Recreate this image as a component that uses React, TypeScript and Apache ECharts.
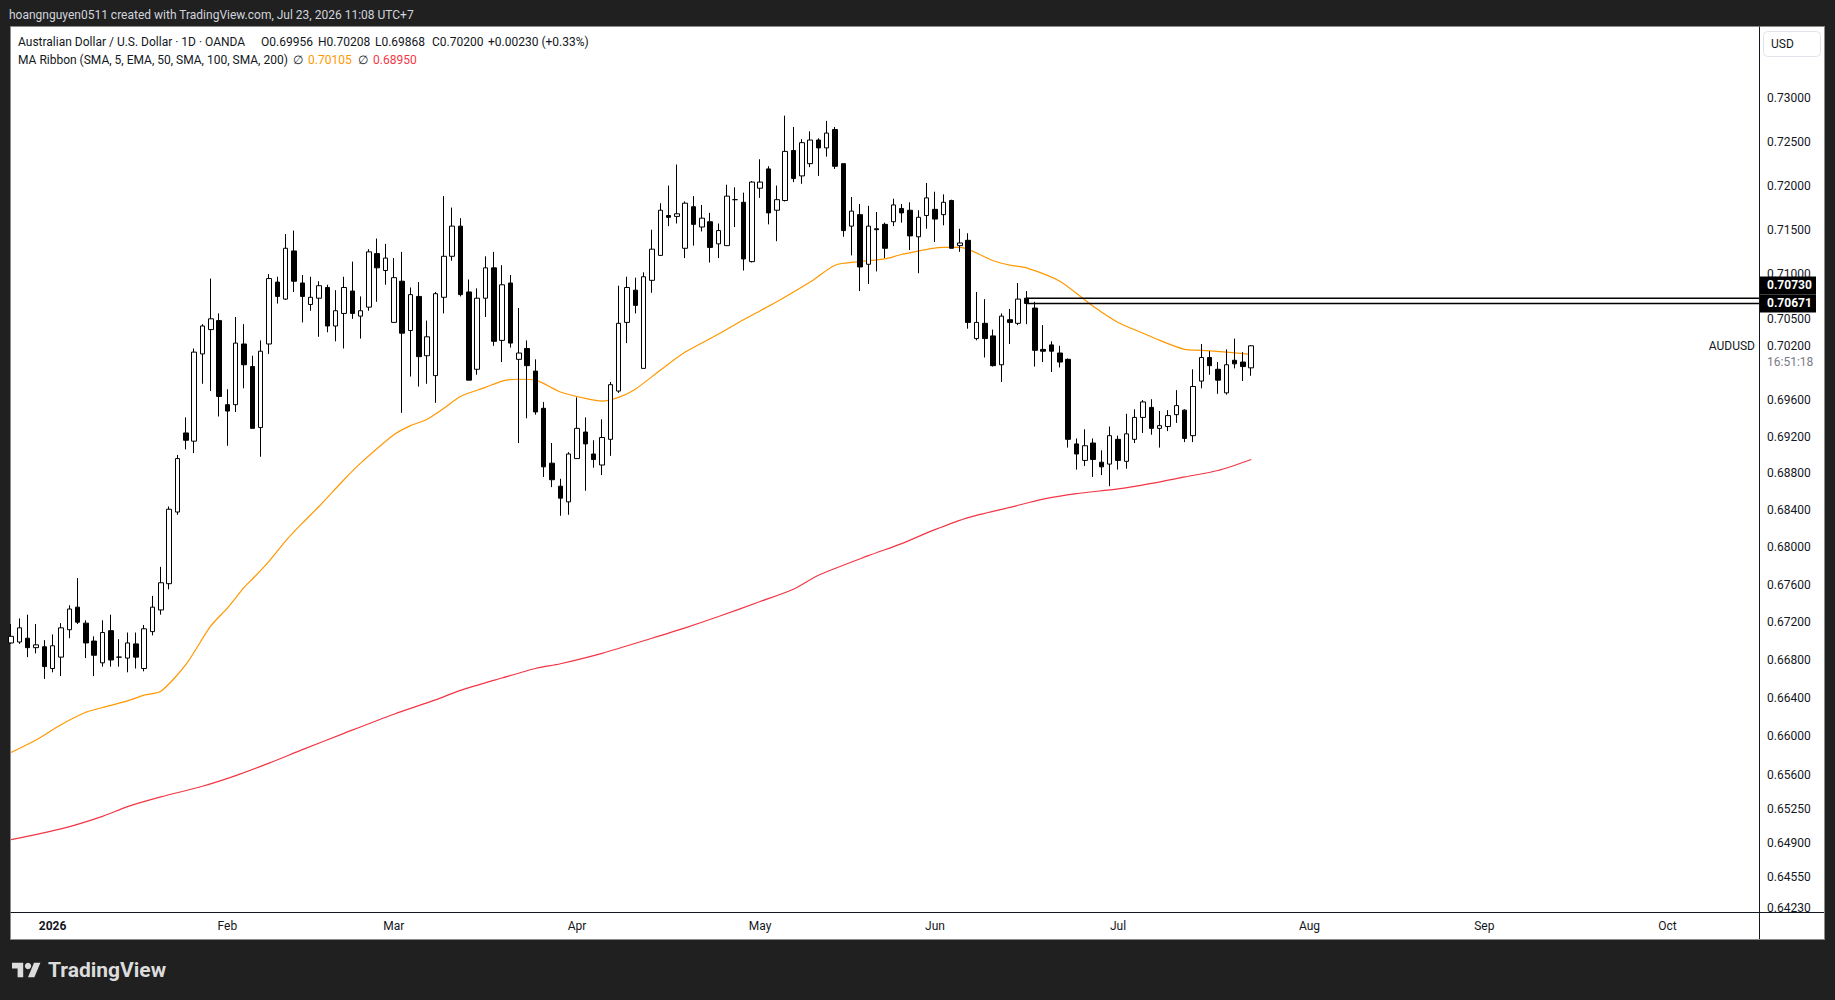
import React, { useEffect, useRef } from "react";
import * as echarts from "echarts";

// ---------- data (AUD/USD daily, OANDA) ----------
const firstDate = "2025-12-26";
const totalBars = 211; // trading days shown on the time scale (incl. empty future space)

const opens = [
  0.6698, 0.6699, 0.6703, 0.6693, 0.6694, 0.6671, 0.6683, 0.6712, 0.6736, 0.6719,
  0.6700, 0.6677, 0.6711, 0.6683, 0.6682, 0.6697, 0.6671, 0.6710, 0.6733, 0.6761,
  0.6838, 0.6924, 0.6915, 0.7011, 0.7038, 0.7048, 0.6955, 0.6955, 0.7022, 0.6997,
  0.6930, 0.7022, 0.7091, 0.7072, 0.7126, 0.7090, 0.7066, 0.7073, 0.7085, 0.7042,
  0.7056, 0.7081, 0.7053, 0.7063, 0.7123, 0.7104, 0.7046, 0.7092, 0.7037, 0.7075,
  0.7009, 0.6987, 0.7074, 0.7120, 0.7154, 0.7080, 0.6994, 0.7073, 0.7107, 0.7026,
  0.7090, 0.7005, 0.7017, 0.6992, 0.6951, 0.6891, 0.6866, 0.6849, 0.6896, 0.6925,
  0.6901, 0.6889, 0.6917, 0.6970, 0.7046, 0.7082, 0.6995, 0.7093, 0.7121, 0.7166,
  0.7165, 0.7129, 0.7176, 0.7153, 0.7159, 0.7134, 0.7132, 0.7184, 0.7181, 0.7114,
  0.7197, 0.7219, 0.7172, 0.7183, 0.7240, 0.7211, 0.7225, 0.7252, 0.7243, 0.7264,
  0.7225, 0.7154, 0.7167, 0.7111, 0.7151, 0.7156, 0.7159, 0.7174, 0.7172, 0.7142,
  0.7166, 0.7173, 0.7167, 0.7183, 0.7132, 0.7138, 0.7028, 0.7045, 0.7031, 0.6999,
  0.7049, 0.7045, 0.7073, 0.7062, 0.7016, 0.7021, 0.7012, 0.7005, 0.6912, 0.6894,
  0.6913, 0.6892, 0.6890, 0.6917, 0.6893, 0.6917, 0.6941, 0.6952, 0.6929, 0.6931,
  0.6944, 0.6949, 0.6921, 0.6981, 0.7007, 0.6994, 0.6968, 0.7004, 0.7002, 0.69956,
];
const highs = [
  0.6718, 0.6724, 0.6728, 0.6718, 0.6701, 0.6707, 0.6719, 0.6738, 0.6767, 0.6722,
  0.6705, 0.6722, 0.6728, 0.6702, 0.6709, 0.6709, 0.6717, 0.6748, 0.6779, 0.6844,
  0.6900, 0.6941, 0.7017, 0.7044, 0.7095, 0.7056, 0.6972, 0.7052, 0.7044, 0.7009,
  0.7026, 0.7100, 0.7097, 0.7145, 0.7149, 0.7099, 0.7097, 0.7092, 0.7088, 0.7082,
  0.7097, 0.7114, 0.7075, 0.7128, 0.7140, 0.7134, 0.7118, 0.7125, 0.7085, 0.7091,
  0.7048, 0.7080, 0.7188, 0.7175, 0.7163, 0.7094, 0.7084, 0.7120, 0.7125, 0.7110,
  0.7099, 0.7062, 0.7026, 0.7005, 0.6958, 0.6913, 0.6874, 0.6903, 0.6963, 0.6941,
  0.6916, 0.6939, 0.6980, 0.7087, 0.7097, 0.7096, 0.7102, 0.7150, 0.7180, 0.7200,
  0.7224, 0.7182, 0.7188, 0.7178, 0.7169, 0.7157, 0.7201, 0.7198, 0.7192, 0.7205,
  0.7230, 0.7222, 0.7200, 0.7280, 0.7267, 0.7253, 0.7262, 0.7254, 0.7274, 0.7267,
  0.7225, 0.7187, 0.7179, 0.7177, 0.7170, 0.7158, 0.7185, 0.7179, 0.7181, 0.7172,
  0.7203, 0.7193, 0.7190, 0.7184, 0.7151, 0.7146, 0.7080, 0.7072, 0.7038, 0.7056,
  0.7061, 0.7090, 0.7081, 0.7069, 0.7043, 0.7025, 0.7020, 0.7006, 0.6918, 0.6928,
  0.6918, 0.6905, 0.6931, 0.6921, 0.6945, 0.6950, 0.6960, 0.6961, 0.6948, 0.6949,
  0.6971, 0.6950, 0.6994, 0.7022, 0.7014, 0.7002, 0.7016, 0.7028, 0.7013, 0.70208,
];
const lows = [
  0.6697, 0.6697, 0.6683, 0.6687, 0.6660, 0.6667, 0.6663, 0.6703, 0.6718, 0.6682,
  0.6663, 0.6673, 0.6673, 0.6673, 0.6667, 0.6671, 0.6668, 0.6706, 0.6728, 0.6755,
  0.6835, 0.6906, 0.6902, 0.6978, 0.6970, 0.6942, 0.6910, 0.6947, 0.6973, 0.6929,
  0.6898, 0.7011, 0.7067, 0.7071, 0.7080, 0.7046, 0.7059, 0.7030, 0.7035, 0.7025,
  0.7017, 0.7050, 0.7028, 0.7059, 0.7069, 0.7088, 0.7046, 0.6946, 0.6986, 0.6975,
  0.6978, 0.6957, 0.7056, 0.7115, 0.7075, 0.6982, 0.6988, 0.7052, 0.7020, 0.7002,
  0.7018, 0.6913, 0.6940, 0.6944, 0.6876, 0.6865, 0.6834, 0.6835, 0.6896, 0.6861,
  0.6886, 0.6878, 0.6899, 0.6968, 0.7023, 0.7056, 0.6995, 0.7079, 0.7121, 0.7154,
  0.7157, 0.7118, 0.7132, 0.7148, 0.7113, 0.7118, 0.7132, 0.7153, 0.7104, 0.7113,
  0.7186, 0.7156, 0.7137, 0.7182, 0.7204, 0.7202, 0.7221, 0.7211, 0.7233, 0.7219,
  0.7142, 0.7121, 0.7081, 0.7089, 0.7103, 0.7118, 0.7154, 0.7158, 0.7127, 0.7101,
  0.7151, 0.7136, 0.7155, 0.7129, 0.7125, 0.7039, 0.7026, 0.7007, 0.6997, 0.6980,
  0.7022, 0.7043, 0.7044, 0.6997, 0.7002, 0.6991, 0.6996, 0.6908, 0.6884, 0.6888,
  0.6876, 0.6878, 0.6866, 0.6884, 0.6885, 0.6913, 0.6924, 0.6922, 0.6908, 0.6926,
  0.6935, 0.6914, 0.6914, 0.6973, 0.6988, 0.6967, 0.6966, 0.6995, 0.6981, 0.69868,
];
const closes = [
  0.6705, 0.6714, 0.6693, 0.6696, 0.6673, 0.6695, 0.6714, 0.6734, 0.6720, 0.6698,
  0.6685, 0.6709, 0.6680, 0.6683, 0.6698, 0.6683, 0.6713, 0.6736, 0.6762, 0.6841,
  0.6896, 0.6916, 0.7013, 0.7042, 0.7050, 0.6964, 0.6948, 0.7023, 0.6999, 0.6929,
  0.7014, 0.7095, 0.7075, 0.7129, 0.7092, 0.7075, 0.7074, 0.7087, 0.7042, 0.7059,
  0.7085, 0.7056, 0.7059, 0.7125, 0.7107, 0.7118, 0.7096, 0.7034, 0.7077, 0.7008,
  0.7030, 0.7078, 0.7120, 0.7154, 0.7077, 0.6982, 0.7073, 0.7107, 0.7025, 0.7088,
  0.7023, 0.7012, 0.6998, 0.6947, 0.6887, 0.6873, 0.6853, 0.6901, 0.6929, 0.6912,
  0.6895, 0.6919, 0.6977, 0.7045, 0.7085, 0.7065, 0.7097, 0.7128, 0.7172, 0.7164,
  0.7168, 0.7180, 0.7156, 0.7163, 0.7130, 0.7149, 0.7188, 0.7184, 0.7117, 0.7204,
  0.7204, 0.7169, 0.7184, 0.7239, 0.7208, 0.7249, 0.7252, 0.7243, 0.7260, 0.7222,
  0.7149, 0.7171, 0.7108, 0.7154, 0.7150, 0.7129, 0.7178, 0.7169, 0.7143, 0.7164,
  0.7186, 0.7162, 0.7181, 0.7129, 0.7135, 0.7046, 0.7046, 0.7028, 0.6998, 0.7053,
  0.7046, 0.7072, 0.70671, 0.7015, 0.7014, 0.7014, 0.7002, 0.6917, 0.6901, 0.6910,
  0.6895, 0.6887, 0.6921, 0.6894, 0.6923, 0.6941, 0.6958, 0.6929, 0.6932, 0.6943,
  0.6954, 0.6918, 0.6975, 0.7007, 0.6998, 0.6982, 0.6999, 0.7000, 0.6997, 0.70200,
];

// MA Ribbon: EMA 50 (orange) and SMA 200 (red), read at these bar numbers
const emaBars = [0, 3, 6, 9, 11, 14, 16, 18, 21, 24, 26, 28, 29, 31, 33, 35, 37, 40, 42, 46, 48, 50, 52, 54, 57, 59, 61, 63, 66, 69, 71, 73, 75, 78, 81, 85, 88, 92, 96, 99, 102, 105, 107, 112, 114, 118, 120, 122, 126, 130, 133, 136, 138, 141, 143, 146, 149];
const emaValues = [
  0.6583, 0.6596, 0.6612, 0.6625, 0.6630, 0.6637, 0.6643, 0.6647, 0.6675, 0.6716,
  0.6735, 0.6757, 0.6766, 0.6785, 0.6807, 0.6826, 0.6844, 0.6873, 0.6891, 0.6922,
  0.6932, 0.6939, 0.6951, 0.6964, 0.6974, 0.6981, 0.6983, 0.6982, 0.6969, 0.6962,
  0.6959, 0.6963, 0.6972, 0.6993, 0.7013, 0.7033, 0.7049, 0.7069, 0.7091, 0.7110,
  0.7114, 0.7117, 0.7122, 0.7130, 0.7130, 0.7115, 0.7110, 0.7107, 0.7092, 0.7064,
  0.7046, 0.7034, 0.7026, 0.7016, 0.7015, 0.7013, 0.70105,
];
const smaBars = [0, 6, 11, 14, 18, 23, 27, 31, 35, 40, 46, 51, 54, 59, 63, 66, 71, 77, 81, 85, 90, 94, 97, 103, 107, 111, 115, 120, 124, 128, 133, 137, 141, 145, 149];
const smaValues = [
  0.6493, 0.6504, 0.6517, 0.6527, 0.6537, 0.6548, 0.6559, 0.6572, 0.6586, 0.6603,
  0.6623, 0.6638, 0.6648, 0.6661, 0.6671, 0.6676, 0.6687, 0.6703, 0.6714, 0.6726,
  0.6742, 0.6755, 0.6770, 0.6791, 0.6804, 0.6819, 0.6832, 0.6843, 0.6852, 0.6858,
  0.6863, 0.6869, 0.6876, 0.6883, 0.6895,
];

// horizontal levels drawn from the 2026-06-17 candle
const levelValues = [0.7073, 0.70671];
const levelStartBar = 122;

// price-scale ticks and visible range
const priceTicks = [0.73, 0.725, 0.72, 0.715, 0.71, 0.705, 0.702, 0.696, 0.692, 0.688, 0.684, 0.68, 0.676, 0.672, 0.668, 0.664, 0.66, 0.656, 0.6525, 0.649, 0.6455, 0.6423];
const priceMin = 0.64192;
const priceMax = 0.73827;

// time-scale labels
const timeTickDates = ["2026-01-02", "2026-02-02", "2026-03-02", "2026-04-01", "2026-05-01", "2026-06-01", "2026-07-01", "2026-08-03", "2026-09-01", "2026-10-01"];
const timeTickTexts = ["2026", "Feb", "Mar", "Apr", "May", "Jun", "Jul", "Aug", "Sep", "Oct"];

const headerText = "hoangnguyen0511 created with TradingView.com, Jul 23, 2026 11:08 UTC+7";
const symbolTitle = "Australian Dollar / U.S. Dollar · 1D · OANDA";
const maTitle = "MA Ribbon (SMA, 5, EMA, 50, SMA, 100, SMA, 200)";
const countdownText = "16:51:18";
const symbolName = "AUDUSD";

// ---------- helpers ----------
function buildDates(): string[] {
  const out: string[] = [];
  const [y, m, d] = firstDate.split("-").map(Number);
  const t = new Date(Date.UTC(y, m - 1, d));
  while (out.length < totalBars) {
    const wd = t.getUTCDay();
    if (wd !== 0 && wd !== 6) out.push(t.toISOString().slice(0, 10));
    t.setUTCDate(t.getUTCDate() + 1);
  }
  return out;
}

let logoRegistered = false;
function registerLogo() {
  if (logoRegistered) return;
  logoRegistered = true;
  echarts.graphic.registerShape(
    "tvlogo",
    echarts.graphic.extendPath("M14 22H7V11H0V4h14v18zM28 22h-8l7.5-18h8L28 22z", {}) as any
  );
}

const TXT = "#131722";
const FONT = "Roboto, 'Noto Sans', sans-serif";
const ORANGE = "#ff9800";
const RED = "#f23645";

export default function App() {
  const ref = useRef<HTMLDivElement>(null);

  useEffect(() => {
    document.body.style.margin = "0";
    registerLogo();
    const el = ref.current!;
    const chart = echarts.init(el, undefined, { renderer: "svg" });
    const L = Math.log;
    const dates = buildDates();
    const tickMap = new Map<string, string>();
    timeTickDates.forEach((d, i) => tickMap.set(d, timeTickTexts[i]));

    const candleData = opens.map((o, i) => [L(o), L(closes[i]), L(lows[i]), L(highs[i])]);
    const emaData = emaBars.map((b, k) => [dates[b], L(emaValues[k])]);
    const smaData = smaBars.map((b, k) => [dates[b], L(smaValues[k])]);
    const last = opens.length - 1;

    const levelSeries = levelValues.map((v, k) => ({
      type: "line",
      name: "level" + k,
      data: [
        [dates[levelStartBar], L(v)],
        [dates[dates.length - 1], L(v)],
      ],
      symbol: "none",
      lineStyle: { color: "#000000", width: 1.5 },
      z: 5,
      silent: true,
    }));

    const option: any = {
      animation: false,
      backgroundColor: "transparent",
      textStyle: { fontFamily: FONT },
      grid: {
        left: 11,
        top: 27,
        width: 1748,
        height: 885,
        containLabel: false,
        outerBoundsMode: "none",
        show: false,
      },
      xAxis: {
        type: "category",
        data: dates,
        boundaryGap: false,
        axisLine: { show: true, onZero: false, lineStyle: { color: TXT, width: 1 } },
        axisTick: { show: false },
        splitLine: { show: false },
        axisLabel: {
          interval: (_i: number, v: string) => tickMap.has(v),
          formatter: (v: string) => {
            const t = tickMap.get(v);
            if (!t) return "";
            return /^\d{4}$/.test(t) ? `{b|${t}}` : t;
          },
          margin: 8,
          color: TXT,
          fontSize: 12,
          fontFamily: FONT,
          hideOverlap: false,
          rich: { b: { fontWeight: "bold", fontSize: 12, color: TXT, fontFamily: FONT } },
        },
      },
      yAxis: {
        type: "value",
        position: "right",
        min: L(priceMin),
        max: L(priceMax),
        axisLine: { show: true, lineStyle: { color: TXT, width: 1 } },
        axisTick: { show: false },
        splitLine: { show: false },
        axisLabel: {
          customValues: priceTicks.map((p) => L(p)),
          formatter: (v: number) => Math.exp(v).toFixed(5),
          margin: 8,
          color: TXT,
          fontSize: 12,
          fontFamily: FONT,
          hideOverlap: false,
          showMinLabel: true,
          showMaxLabel: true,
        },
      },
      series: [
        {
          type: "line",
          name: "EMA 50",
          data: emaData,
          symbol: "none",
          smooth: 0.25,
          lineStyle: { color: ORANGE, width: 1.2 },
          z: 2,
          silent: true,
        },
        {
          type: "line",
          name: "SMA 200",
          data: smaData,
          symbol: "none",
          smooth: 0.25,
          lineStyle: { color: RED, width: 1.2 },
          z: 2,
          silent: true,
        },
        {
          type: "candlestick",
          name: "AUDUSD",
          data: candleData,
          barWidth: 5,
          clip: true,
          itemStyle: {
            color: "#ffffff",
            color0: "#000000",
            borderColor: "#000000",
            borderColor0: "#000000",
            borderColorDoji: "#000000",
            borderWidth: 1,
          },
          z: 3,
          silent: true,
        },
        ...levelSeries,
      ],
    };
    chart.setOption(option);

    const yOf = (v: number) => chart.convertToPixel({ yAxisIndex: 0 }, L(v)) as number;
    const yClose = yOf(closes[last]);
    const yLow = yOf(levelValues[1]);
    const change = closes[last] - closes[last - 1];
    const pct = (change / closes[last - 1]) * 100;
    const sign = change >= 0 ? "+" : "−";

    const t = (x: number, y: number, text: string, extra: any = {}) => ({
      type: "text",
      x,
      y,
      z: 62,
      silent: true,
      style: {
        text,
        fill: TXT,
        font: `12px ${FONT}`,
        align: "left",
        verticalAlign: "middle",
        ...extra,
      },
    });

    const graphic: any[] = [
      // header + footer on dark frame
      t(9, 14.5, headerText, { fill: "#d1d4dc" }),
      {
        type: "tvlogo",
        x: 12,
        y: 959.6,
        scaleX: 0.8,
        scaleY: 0.8,
        z: 50,
        silent: true,
        style: { fill: "#dcdcdc" },
      },
      { type: "circle", shape: { cx: 28, cy: 966, r: 3.2 }, z: 50, silent: true, style: { fill: "#dcdcdc" } },
      t(48, 970, "TradingView", { fill: "#dcdcdc", font: `bold 21px ${FONT}` }),
      // legend
      t(18, 42, symbolTitle),
      t(261, 42, "O" + opens[last].toFixed(5)),
      t(318, 42, "H" + highs[last].toFixed(5)),
      t(375, 42, "L" + lows[last].toFixed(5)),
      t(432, 42, "C" + closes[last].toFixed(5)),
      t(488, 42, `${sign}${Math.abs(change).toFixed(5)} (${sign}${Math.abs(pct).toFixed(2)}%)`),
      t(18, 59.5, maTitle),
      t(293, 59.5, "∅"),
      t(308, 59.5, emaValues[emaValues.length - 1].toFixed(5), { fill: ORANGE }),
      t(358, 59.5, "∅"),
      t(373, 59.5, smaValues[smaValues.length - 1].toFixed(5), { fill: RED }),
      // currency box
      {
        type: "rect",
        shape: { x: 1763.5, y: 31.5, width: 57, height: 25, r: 4 },
        z: 50,
        silent: true,
        style: { fill: "#ffffff", stroke: "#e0e3eb", lineWidth: 1 },
      },
      t(1771, 44, "USD"),
      // cover under time scale in price-scale column
      {
        type: "rect",
        shape: { x: 1760, y: 912.5, width: 63.5, height: 26 },
        z: 60,
        silent: true,
        style: { fill: "#ffffff" },
      },
      {
        type: "line",
        shape: { x1: 1759, y1: 912.5, x2: 1824, y2: 912.5 },
        z: 61,
        silent: true,
        style: { stroke: TXT, lineWidth: 1 },
      },
      {
        type: "line",
        shape: { x1: 1759.5, y1: 912, x2: 1759.5, y2: 939 },
        z: 61,
        silent: true,
        style: { stroke: TXT, lineWidth: 1 },
      },
      // symbol label and countdown at last close
      t(1755, yClose, symbolName, { align: "right" }),
      t(1767, yClose + 16, countdownText, { fill: "#787b86" }),
      // level price boxes
      {
        type: "rect",
        shape: { x: 1760, y: yLow - 27, width: 56, height: 18 },
        z: 70,
        silent: true,
        style: { fill: "#000000" },
      },
      t(1767, yLow - 18, levelValues[0].toFixed(5), { fill: "#ffffff", font: `bold 12px ${FONT}` }),
      {
        type: "rect",
        shape: { x: 1760, y: yLow - 9, width: 56, height: 18 },
        z: 70,
        silent: true,
        style: { fill: "#000000" },
      },
      t(1767, yLow, levelValues[1].toFixed(5), { fill: "#ffffff", font: `bold 12px ${FONT}` }),
    ];
    graphic.forEach((g) => {
      if (g.type === "text" && g.style.fill === "#ffffff") g.z = 71;
    });
    chart.setOption({ graphic });

    return () => chart.dispose();
  }, []);

  return (
    <div style={{ position: "relative", width: 1835, height: 1000, background: "#202020", overflow: "hidden" }}>
      <div
        style={{
          position: "absolute",
          left: 10,
          top: 26,
          width: 1815,
          height: 914,
          background: "#ffffff",
          border: "1px solid #8c8c8c",
          boxSizing: "border-box",
        }}
      />
      <div ref={ref} style={{ position: "absolute", left: 0, top: 0, width: 1835, height: 1000 }} />
    </div>
  );
}
